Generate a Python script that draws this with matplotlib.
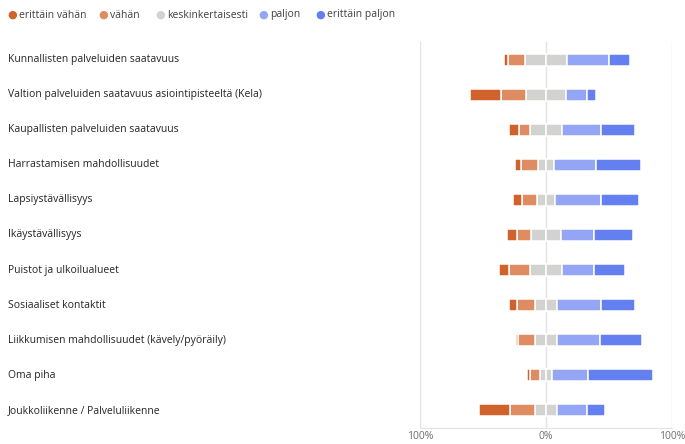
import matplotlib.pyplot as plt
from matplotlib.transforms import blended_transform_factory
import numpy as np

plt.rcParams['font.family'] = ['Open Sans', 'DejaVu Sans']

# survey items, top to bottom
items = [
    "Kunnallisten palveluiden saatavuus",
    "Valtion palveluiden saatavuus asiointipisteeltä (Kela)",
    "Kaupallisten palveluiden saatavuus",
    "Harrastamisen mahdollisuudet",
    "Lapsiystävällisyys",
    "Ikäystävällisyys",
    "Puistot ja ulkoilualueet",
    "Sosiaaliset kontaktit",
    "Liikkumisen mahdollisuudet (kävely/pyöräily)",
    "Oma piha",
    "Joukkoliikenne / Palveluliikenne",
]

labels = ["erittäin vähän", "vähän", "keskinkertaisesti", "paljon", "erittäin paljon"]
colors = ["#D2622B", "#E08C62", "#D2D2D0", "#94A5F5", "#6480F0"]

# shares in percent
very_little = [3, 25, 8, 5, 7, 8, 8, 6, 1.5, 2, 25]
little = [13, 20, 9, 13, 12, 11, 16, 14, 14, 8, 20]
neutral = [34, 31, 25, 13, 14, 24, 26, 18, 17, 10, 17]
much = [33, 17, 31, 33, 37, 26, 25, 35, 34, 28, 24]
very_much = [17, 7, 27, 36, 30, 31, 25, 27, 34, 52, 14]

vl = np.array(very_little, dtype=float)
li = np.array(little, dtype=float)
ne = np.array(neutral, dtype=float)
mu = np.array(much, dtype=float)
vm = np.array(very_much, dtype=float)

y = np.arange(len(items))

fig = plt.figure(figsize=(6.85, 4.44), dpi=100)
ax = fig.add_axes([420 / 685, 1 - 428 / 444, 252 / 685, 386 / 444])

h = 0.34
kw = dict(height=h, edgecolor="white", linewidth=1.1, zorder=3)

# negative side: neutral half, little, very little
ax.barh(y, -ne / 2, left=0, color=colors[2], **kw)
ax.barh(y, -li, left=-ne / 2, color=colors[1], **kw)
ax.barh(y, -vl, left=-ne / 2 - li, color=colors[0], **kw)
# positive side
ax.barh(y, ne / 2, left=0, color=colors[2], **kw)
ax.barh(y, mu, left=ne / 2, color=colors[3], **kw)
ax.barh(y, vm, left=ne / 2 + mu, color=colors[4], **kw)

ax.set_xlim(-100, 100)
ax.set_ylim(len(items) - 0.5, -0.5)
for xv in [-100, 0, 100]:
    ax.axvline(xv, color="#E3E3E3", linewidth=1, zorder=1)

for s in ["top", "right", "left"]:
    ax.spines[s].set_visible(False)
ax.spines["bottom"].set_color("#E3E3E3")
ax.set_yticks([])
ax.set_xticks([-100, 0, 100])
ax.set_xticklabels(["100%", "0%", "100%"], color="#707070", fontsize=7.5)
ax.tick_params(axis="x", length=0, pad=2)

# row labels at the left edge of the figure
trans = blended_transform_factory(fig.transFigure, ax.transData)
for yi, name in zip(y, items):
    ax.text(8 / 685, yi, name, transform=trans,
            ha="left", va="center", fontsize=7.5, color="#252423")

# legend
xs = [12, 103, 160, 263, 320]
for xp, lab, c in zip(xs, labels, colors):
    fig.text(xp / 685, 1 - 15 / 444, "●", color=c, fontsize=8, ha="center", va="center")
    fig.text((xp + 7) / 685, 1 - 15 / 444, lab, color="#404040", fontsize=7.5, ha="left", va="center")

fig.savefig("out.png", dpi=100)
